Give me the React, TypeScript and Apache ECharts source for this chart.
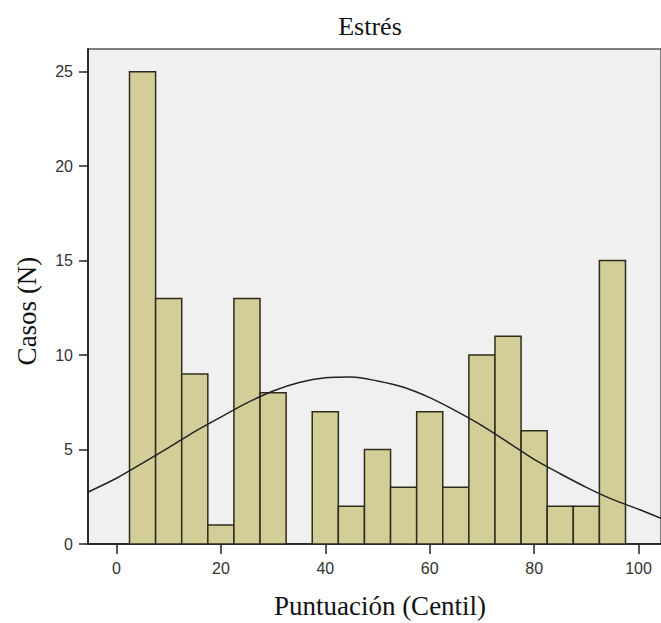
import React, { useEffect, useRef } from "react";
import * as echarts from "echarts";

const binCenters = [5, 10, 15, 20, 25, 30, 35, 40, 45, 50, 55, 60, 65, 70, 75, 80, 85, 90, 95];
const counts = [25, 13, 9, 1, 13, 8, 0, 7, 2, 5, 3, 7, 3, 10, 11, 6, 2, 2, 15];
const binWidth = 5;

const curveX = [-5.5, 0, 5, 10, 15, 20, 25, 30, 35, 40, 45, 50, 55, 60, 65, 70, 75, 80, 85, 90, 95, 100, 104.3];
const curveY = [2.74, 3.48, 4.28, 5.1, 5.95, 6.72, 7.47, 8.1, 8.55, 8.8, 8.84, 8.63, 8.3, 7.75, 7.05, 6.27, 5.38, 4.48, 3.72, 3.0, 2.36, 1.84, 1.36];

const xTicks = [0, 20, 40, 60, 80, 100];
const yTicks = [0, 5, 10, 15, 20, 25];

const title = "Estrés";
const xName = "Puntuación (Centil)";
const yName = "Casos (N)";

export default function App() {
  const ref = useRef<HTMLDivElement>(null);
  useEffect(() => {
    if (!ref.current) return;
    const chart = echarts.init(ref.current, null, { renderer: "svg" });
    const barData = binCenters.map((c, i) => [c, counts[i]]);
    const lineData = curveX.map((x, i) => [x, curveY[i]]);
    chart.setOption({
      animation: false,
      backgroundColor: "#ffffff",
      title: {
        text: title,
        left: 365,
        top: 8,
        textAlign: "center",
        textStyle: { fontFamily: "Liberation Serif", fontSize: 26, fontWeight: "normal", color: "#111" },
      },
      grid: {
        left: 88,
        right: 0,
        top: 49,
        bottom: 79,
        show: true,
        backgroundColor: "#f0f0f0",
        borderColor: "#555",
        borderWidth: 1.5,
      },
      xAxis: {
        type: "value",
        min: -5.45,
        max: 104.3,
        splitLine: { show: false },
        axisLine: { show: true, onZero: false, lineStyle: { color: "#111", width: 1.5 } },
        axisTick: { show: true, customValues: xTicks, length: 10, lineStyle: { color: "#222", width: 1.5 } },
        axisLabel: {
          customValues: xTicks,
          margin: 16,
          fontFamily: "Liberation Sans",
          fontSize: 16,
          color: "#333",
        },
      },
      yAxis: {
        type: "value",
        min: 0,
        max: 26.2,
        splitLine: { show: false },
        axisLine: { show: true, onZero: false, lineStyle: { color: "#111", width: 1.5 } },
        axisTick: { show: true, customValues: yTicks, length: 9, lineStyle: { color: "#222", width: 1.5 } },
        axisLabel: {
          customValues: yTicks,
          margin: 15,
          fontFamily: "Liberation Sans",
          fontSize: 16,
          color: "#333",
        },
      },
      graphic: [
        {
          type: "text",
          x: 380,
          y: 606,
          style: {
            text: xName,
            textAlign: "center",
            textVerticalAlign: "middle",
            fontFamily: "Liberation Serif",
            fontSize: 27,
            fill: "#111",
          },
        },
        {
          type: "text",
          x: 27,
          y: 311,
          rotation: Math.PI / 2,
          style: {
            text: yName,
            textAlign: "center",
            textVerticalAlign: "middle",
            fontFamily: "Liberation Serif",
            fontSize: 27,
            fill: "#111",
          },
        },
      ],
      series: [
        {
          type: "custom",
          data: barData,
          encode: { x: 0, y: 1 },
          z: 2,
          renderItem: (params: any, api: any) => {
            const c = api.value(0);
            const v = api.value(1);
            if (!v) return null;
            const p0 = api.coord([c - binWidth / 2, v]);
            const p1 = api.coord([c + binWidth / 2, 0]);
            return {
              type: "rect",
              shape: { x: p0[0], y: p0[1], width: p1[0] - p0[0], height: p1[1] - p0[1] },
              style: { fill: "#d3ce97", stroke: "#2e2c1c", lineWidth: 1.5 },
            };
          },
        },
        {
          type: "line",
          data: lineData,
          smooth: 0.3,
          symbol: "none",
          z: 3,
          lineStyle: { color: "#222", width: 1.5 },
        },
      ],
    });
    return () => chart.dispose();
  }, []);
  return <div ref={ref} style={{ position: "absolute", left: 0, top: 0, width: 661, height: 623 }} />;
}
